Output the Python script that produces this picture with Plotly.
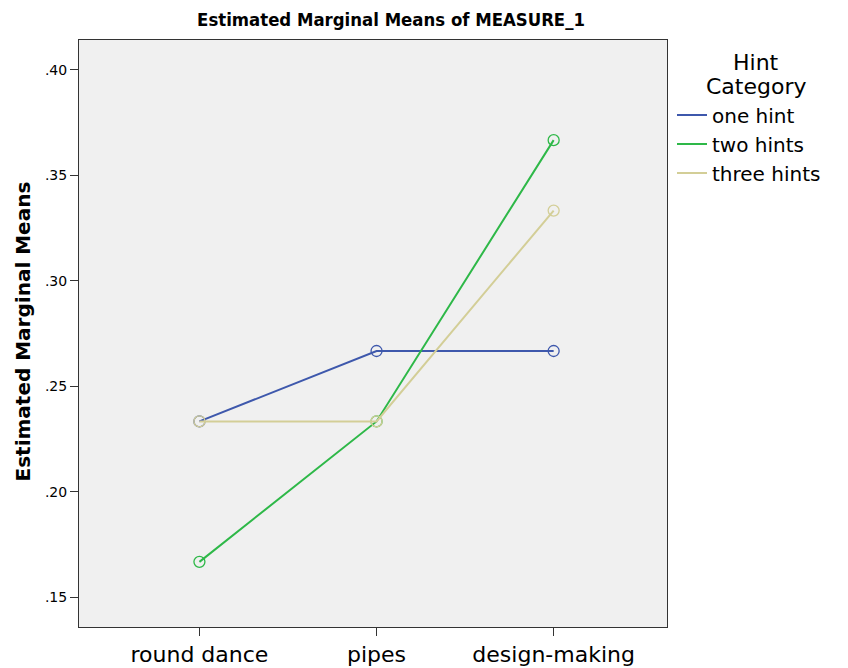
import plotly.graph_objects as go

categories = ["round dance", "pipes", "design-making"]
one_hint = [0.2333, 0.2667, 0.2667]
two_hints = [0.1667, 0.2333, 0.3667]
three_hints = [0.2333, 0.2333, 0.3333]
series_names = ["one hint", "two hints", "three hints"]
y_ticks = [0.15, 0.20, 0.25, 0.30, 0.35, 0.40]
y_tick_labels = [".15", ".20", ".25", ".30", ".35", ".40"]

colors = ["#3E58AC", "#2EB848", "#D3CE97"]
FONT = "DejaVu Sans, sans-serif"

# the page body adds an 8px offset, so the figure is 8px smaller on each side
fig = go.Figure()
for name, vals, col in zip(series_names, [one_hint, two_hints, three_hints], colors):
    fig.add_trace(go.Scatter(
        x=[0, 1, 2], y=vals, name=name, mode="lines+markers", showlegend=False,
        line=dict(color=col, width=2),
        marker=dict(symbol="circle-open", size=11, color=col, line=dict(width=1.3)),
    ))
# legend entries (lines only, as in the reference)
for name, col in zip(series_names, colors):
    fig.add_trace(go.Scatter(
        x=[None], y=[None], name=name, mode="lines",
        line=dict(color=col, width=2), showlegend=True,
    ))

fig.update_layout(
    width=840, height=660,
    margin=dict(l=71, r=181, t=32, b=41, autoexpand=False),
    paper_bgcolor="white", plot_bgcolor="#F0F0F0",
    font=dict(family=FONT, color="black"),
    title=dict(text="<b>Estimated Marginal Means of MEASURE_1</b>",
               x=0.456, xanchor="center", y=0.982, yanchor="middle",
               font=dict(size=18.4, family="DejaVu Sans Condensed, DejaVu Sans, sans-serif")),
    legend=dict(x=1.0085, xanchor="left", y=0.9055, yanchor="top",
                font=dict(size=20), itemwidth=30, tracegroupgap=0,
                bgcolor="rgba(0,0,0,0)"),
    annotations=[
        dict(text="Hint", xref="paper", yref="paper",
             x=1.1514, y=0.9625, xanchor="center", yanchor="middle",
             showarrow=False, font=dict(size=22)),
        dict(text="Category", xref="paper", yref="paper",
             x=1.1514, y=0.9216, xanchor="center", yanchor="middle",
             showarrow=False, font=dict(size=22)),
        dict(text="<b>Estimated Marginal Means</b>", xref="paper", yref="paper",
             x=0, xshift=-57, y=0.5, yshift=2, xanchor="center", yanchor="middle",
             textangle=-90, showarrow=False, font=dict(size=20)),
    ],
)
fig.update_xaxes(
    range=[-0.68, 2.64], tickvals=[0, 1, 2], ticktext=categories,
    showgrid=False, zeroline=False, showline=True, linecolor="#333",
    linewidth=1, mirror=True, ticks="outside", ticklen=8, tickcolor="#333",
    tickfont=dict(size=22), automargin=False,
)
fig.update_yaxes(
    range=[0.1358, 0.4142], tickvals=y_ticks, ticktext=y_tick_labels,
    showgrid=False, zeroline=False, showline=True, linecolor="#333",
    linewidth=1, mirror=True, ticks="outside", ticklen=8, tickcolor="#333",
    tickfont=dict(size=14), automargin=False,
)
fig.write_html("out.html")
